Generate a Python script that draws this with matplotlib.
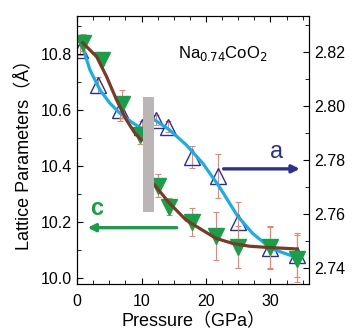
import matplotlib
matplotlib.use('Agg')
import matplotlib.pyplot as plt
from matplotlib.ticker import MultipleLocator

FONT = ['Liberation Sans', 'Noto Sans CJK SC']
plt.rcParams['font.family'] = FONT

# c axis (left), green down triangles
p_c = [0.9, 3.8, 6.9, 9.7, 12.5, 14.2, 17.9, 21.6, 24.9, 30.0, 34.1]
c = [10.84, 10.78, 10.62, 10.51, 10.33, 10.255, 10.20, 10.15, 10.11, 10.11, 10.07]
c_err = [0.03, 0.02, 0.05, 0.03, 0.04, 0.03, 0.05, 0.085, 0.075, 0.075, 0.085]

# a axis (right), open blue up triangles
p_a = [0.5, 3.3, 6.6, 10.0, 12.3, 14.1, 17.9, 21.8, 24.9, 30.0, 34.1]
a = [2.8207, 2.8078, 2.7985, 2.7923, 2.7948, 2.7923, 2.7812, 2.7741, 2.7571, 2.7474, 2.7448]
a_err = [0.002, 0.003, 0.004, 0.002, 0.002, 0.002, 0.004, 0.008, 0.0075, 0.0077, 0.008]

# fitted curves
fit_c1_p = [0.88, 3.04, 4.58, 6.13, 7.67, 8.95, 9.98]
fit_c1 = [10.840, 10.790, 10.719, 10.636, 10.564, 10.518, 10.493]
fit_c2_p = [12.04, 14.35, 16.93, 18.98, 21.56, 24.12, 26.70, 29.27, 34.15]
fit_c2 = [10.332, 10.267, 10.207, 10.178, 10.142, 10.124, 10.114, 10.110, 10.104]
fit_a1_p = [0.73, 2.0, 3.55, 5.09, 6.64, 8.69, 9.98]
fit_a1 = [2.8226, 2.8133, 2.8059, 2.8010, 2.7973, 2.7936, 2.7917]
fit_a2_p = [12.04, 14.35, 16.93, 19.49, 22.07, 24.89, 27.21, 30.05, 34.41]
fit_a2 = [2.7948, 2.7911, 2.7856, 2.7788, 2.7701, 2.7593, 2.7529, 2.7473, 2.7436]

GREEN = '#16a048'
NAVY = '#2b3192'
CYAN = '#1aaee8'
BROWN = '#7a3a24'
ERR = '#f4826e'

fig = plt.figure(figsize=(3.52, 3.31), dpi=100)
ax = fig.add_axes([0.219, 0.142, 0.659, 0.810])
ax2 = ax.twinx()
ax.set_zorder(ax2.get_zorder() + 1)
ax.patch.set_visible(False)

# a series on right axis
ax2.errorbar(p_a, a, yerr=a_err, fmt='none', ecolor=ERR, elinewidth=0.8, capsize=2, capthick=0.8, zorder=1)
ax2.plot(p_a, a, '^', ms=11.5, mfc='none', mec=NAVY, mew=1.0, zorder=2)
ax2.plot(fit_a1_p, fit_a1, '-', color=CYAN, lw=2.3, zorder=3)
ax2.plot(fit_a2_p, fit_a2, '-', color=CYAN, lw=2.3, zorder=3)
ax2.annotate('', xy=(35.0, 2.7767), xytext=(22.3, 2.7767),
             arrowprops=dict(arrowstyle='-|>', color=NAVY, lw=2.4, mutation_scale=11))
ax2.text(31.0, 2.783, 'a', color=NAVY, fontsize=17, ha='center', va='center')

# c series on left axis
ax.errorbar(p_c, c, yerr=c_err, fmt='none', ecolor=ERR, elinewidth=0.8, capsize=2, capthick=0.8, zorder=1)
ax.plot(p_c, c, 'v', ms=11.5, color=GREEN, mec=GREEN, zorder=2)
ax.plot(fit_c1_p, fit_c1, '-', color=BROWN, lw=2.3, zorder=3)
ax.plot(fit_c2_p, fit_c2, '-', color=BROWN, lw=2.3, zorder=3)
ax.fill_between([10.3, 11.9], 10.236, 10.646, color='#bbb6b6', lw=0, zorder=4)
ax.annotate('', xy=(1.2, 10.18), xytext=(15.9, 10.18),
            arrowprops=dict(arrowstyle='-|>', color=GREEN, lw=2.4, mutation_scale=11))
ax.text(3.0, 10.25, 'c', color=GREEN, fontsize=17, fontweight='bold', ha='center', va='center')
ax.text(15.6, 10.80, r'Na$_{0.74}$CoO$_2$', fontsize=12, ha='left', va='center')

ax.set_xlim(0, 36)
ax.set_ylim(9.979, 10.936)
ax2.set_ylim(2.7341, 2.8333)

ax.xaxis.set_major_locator(MultipleLocator(10))
ax.xaxis.set_minor_locator(MultipleLocator(2.5))
ax.yaxis.set_major_locator(MultipleLocator(0.2))
ax.yaxis.set_minor_locator(MultipleLocator(0.1))
ax2.yaxis.set_major_locator(MultipleLocator(0.02))
ax2.yaxis.set_minor_locator(MultipleLocator(0.01))
ax.yaxis.set_major_formatter(plt.FormatStrFormatter('%.1f'))
ax2.yaxis.set_major_formatter(plt.FormatStrFormatter('%.2f'))

ax.tick_params(which='both', direction='in', top=True, right=False, labelsize=11.5)
ax.tick_params(which='major', length=4)
ax.tick_params(which='minor', length=3)
ax.tick_params(axis='x', pad=7)
ax2.tick_params(which='both', direction='in', labelsize=11.5)
ax2.tick_params(which='major', length=4)
ax2.tick_params(which='minor', length=3)

ax.set_xlabel('Pressure（GPa）', fontsize=13, labelpad=3)
ax.set_ylabel('Lattice Parameters（Å）', fontsize=13, labelpad=6)

fig.savefig('out.png', dpi=100)
